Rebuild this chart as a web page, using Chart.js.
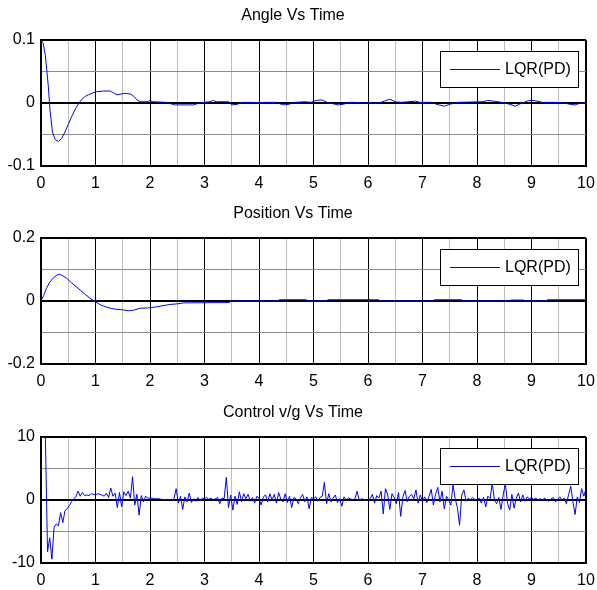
<!DOCTYPE html>
<html>
<head>
<meta charset="utf-8">
<script src="https://cdn.jsdelivr.net/npm/chart.js@4"></script>
<style>
  body { margin: 0; background: #fff; }
  #wrap { position: relative; width: 597px; height: 590px; }
  .box { position: absolute; left: 0; width: 597px; }
</style>
</head>
<body>
<div id="wrap">
  <div class="box" style="top:0"><canvas id="chart1" width="597" height="198"></canvas></div>
  <div class="box" style="top:198px"><canvas id="chart2" width="597" height="199"></canvas></div>
  <div class="box" style="top:397px"><canvas id="chart3" width="597" height="193"></canvas></div>
</div>
<script>
// Angle Vs Time
const angleT = [0, 0.04, 0.08, 0.135, 0.165, 0.21, 0.26, 0.32, 0.38, 0.44, 0.5, 0.56, 0.64, 0.72, 0.8, 0.87, 0.95,
    1.02, 1.15, 1.27, 1.33, 1.39, 1.45, 1.51, 1.58, 1.65, 1.71, 1.76, 1.82, 1.95, 2.0, 2.05, 2.3, 2.45, 2.8, 2.9,
    3.1, 3.15, 3.22, 3.45, 3.5, 3.6, 3.7, 3.85, 3.95, 4.1, 4.3, 4.45, 4.55, 4.65, 4.85, 4.95, 5.05, 5.15, 5.25,
    5.45, 5.55, 5.65, 5.75, 5.85, 6.2, 6.3, 6.4, 6.5, 6.6, 6.75, 6.87, 6.95, 7.15, 7.3, 7.4, 7.5, 7.65, 8.1, 8.2,
    8.3, 8.45, 8.6, 8.7, 8.8, 8.95, 9.05, 9.2, 9.45, 9.6, 9.7, 9.8, 9.9, 10];
const angleV = [0.1, 0.095, 0.075, 0.026, -0.011, -0.046, -0.058, -0.061, -0.056, -0.046, -0.034, -0.022, -0.008,
    0.003, 0.010, 0.013, 0.016, 0.018, 0.019, 0.019, 0.016, 0.013, 0.014, 0.015, 0.015, 0.014, 0.010, 0.005, 0.002,
    0.002, 0.004, 0.002, 0.001, -0.003, -0.003, 0, 0.002, 0.004, 0.002, 0.002, -0.003, -0.002, 0.001, 0.001, 0,
    0.001, 0.001, -0.003, -0.002, 0.001, 0.002, 0.001, 0.004, 0.005, 0.001, -0.003, -0.002, 0.001, 0.001, 0,
    0, 0.003, 0.006, 0.002, 0.001, 0.002, 0.003, 0.001, 0.001, -0.003, -0.005, -0.002, 0.001, 0.002, 0.004,
    0.003, 0.001, -0.002, -0.005, -0.001, 0.004, 0.004, 0.001, 0.001, 0, -0.002, -0.003, 0, 0];

// Position Vs Time
const posT = [0, 0.05, 0.1, 0.16, 0.23, 0.29, 0.34, 0.4, 0.47, 0.56, 0.65, 0.73, 0.81, 0.9, 0.99, 1.1, 1.21, 1.3,
    1.36, 1.5, 1.6, 1.7, 1.82, 1.95, 2.1, 2.2, 2.37, 2.5, 2.62, 3.46, 3.48, 4.35, 4.37, 4.87, 4.89, 5.24, 5.26,
    6.2, 6.22, 7.2, 7.22, 7.72, 7.74, 8.6, 8.62, 8.85, 8.87, 9.27, 9.29, 10];
const posV = [0, 0.018, 0.040, 0.060, 0.074, 0.082, 0.085, 0.080, 0.072, 0.058, 0.045, 0.033, 0.021, 0.009, -0.002,
    -0.013, -0.020, -0.024, -0.026, -0.028, -0.031, -0.029, -0.023, -0.022, -0.019, -0.016, -0.011, -0.009, -0.006,
    -0.005, 0, 0, 0.004, 0.004, 0, 0, 0.004, 0.004, 0, 0, 0.004, 0.004, 0, 0, 0.003, 0.003, 0, 0, 0.004, 0.004];

// Control v/g Vs Time, sampled every 0.04 s
const CONTROL_DT = 0.04;
const controlV = [
    10, 10, 10, -8.2, -6, -9.4, -4.3, -3.8, -4.1, -2.0, -3.6, -1.7, -1.4, -0.9, -0.3, 0.2, 0.5, 1.4, 0.6, 1.2, 0.7, 0.8, 0.7, 1.0, 0.9,
    0.8, 1.0, 0.9, 0.8, 0.6, 1.1, 0.4, 1.9, 0.6, 1.1, -1.2, 1.2, -1.1, 1.3, 0.7, 1.4, 0.3, 3.7, -0.8, 0.9, -2.4, 0.7, -0.3, 0.6, 0.3,
    0.3, 0.3, 0.2, 0.2, 0.2, 0.1, 0.1, 0.0, 0.1, 0.0, 0.0, 0.2, 1.8, -0.5, 0.6, -1.5, 0.5, -0.3, 1.1, -0.4, 0.2, -0.2, 0.4, -0.1, 0.3,
    0.2, 0.4, 0.1, 0.3, 0.0, 0.2, 0.4, -0.6, 0.3, 0.2, 3.6, -1.2, 0.8, -1.6, 0.6, -0.7, 1.3, -0.3, 1.0, 0.2, 0.9, -0.2, 0.4, -0.5, 0.6,
    0.3, -0.8, 0.5, 0.8, -0.3, 1.0, 0.0, 0.9, -0.5, 1.2, 0.1, -0.3, 1.0, -0.4, 0.6, -1.2, 0.4, 0.2, -0.6, 0.3, 0.9, -0.3, 0.5, -1.4, 0.4,
    0.2, 0.5, -0.2, 0.4, 0.6, 2.8, -0.6, 1.0, -0.3, 0.3, 0.8, -0.4, 0.2, -1.0, 0.5, 0.0, 0.3, 0.2, 0.0, 0.2, 1.4, -0.1, 0.2, 0.1, 0.0,
    0.0, 0.2, 0.9, -0.5, 0.7, 0.3, 1.4, -2.2, 1.8, 0.9, -1.5, 1.0, 0.4, -0.6, 1.2, -2.6, 0.5, 1.5, -0.3, 0.6, 0.9, 0.2, 1.6, -0.5, 0.8,
    -0.2, 0.5, -0.4, 0.6, 1.7, -0.8, 0.9, 2.0, -0.3, 1.4, -1.4, 0.6, 0.0, -0.8, 2.4, 0.2, -1.2, -4.0, 0.8, 1.6, -0.2, 0.3, 0.0, 0.4, 0.1,
    0.0, 0.3, -0.5, 0.4, -1.1, 0.6, 0.2, 2.7, 0.0, -0.6, 0.4, -1.5, 0.8, 2.6, -0.5, -1.6, 0.9, -1.3, 0.3, 1.1, -0.3, 0.8, -0.2, 0.5, 0.2,
    0.4, 0.1, 0.3, 0.0, 0.2, -0.1, 0.3, 0.0, -0.2, 0.2, 0.4, -0.3, 0.1, 0.5, 0.0, 0.3, -0.6, 0.8, 2.2, -0.3, -2.3, 0.5, -0.4, 1.8, 0.6,
    1.8
];

const xTicksMajor = [0, 1, 2, 3, 4, 5, 6, 7, 8, 9, 10];
const seriesLabel = 'LQR(PD)';
const LINE_COLOR = '#0000ff';
const FONT = "'Liberation Sans', Arial, sans-serif";

function toPoints(ts, vs) {
    return vs.map((v, i) => ({x: ts[i], y: v}));
}
const controlT = controlV.map((v, i) => +(i * CONTROL_DT).toFixed(2));

// legend box drawn inside the plot, top right, like the original figure
const boxLegend = {
    id: 'boxLegend',
    afterDatasetsDraw(chart) {
        const a = chart.chartArea;
        const ds = chart.data.datasets[0];
        const ctx = chart.ctx;
        const x0 = Math.round(a.right) - 146, y0 = Math.round(a.top) + 11, w = 138, h = 36;
        ctx.save();
        ctx.fillStyle = '#fff';
        ctx.fillRect(x0, y0, w, h);
        ctx.strokeStyle = '#000';
        ctx.lineWidth = 1;
        ctx.strokeRect(x0 + 0.5, y0 + 0.5, w, h);
        ctx.strokeStyle = LINE_COLOR;
        ctx.lineWidth = 1;
        ctx.beginPath();
        ctx.moveTo(x0 + 10, y0 + 18.5);
        ctx.lineTo(x0 + 60, y0 + 18.5);
        ctx.stroke();
        ctx.fillStyle = '#000';
        ctx.font = '16px ' + FONT;
        ctx.textBaseline = 'middle';
        ctx.fillText(ds.label, x0 + 65, y0 + h / 2 + 1);
        ctx.restore();
    }
};

function makeChart(id, title, data, yMin, yMax, yStep) {
    const ctx = document.getElementById(id).getContext('2d');
    return new Chart(ctx, {
        type: 'line',
        data: {
            datasets: [{
                label: seriesLabel,
                data: data,
                borderColor: LINE_COLOR,
                borderWidth: 1,
                pointRadius: 0,
                tension: 0
            }]
        },
        options: {
            responsive: false,
            animation: false,
            devicePixelRatio: 1,
            layout: { padding: { left: 0, right: 11, top: 0, bottom: 0 } },
            plugins: {
                legend: { display: false },
                tooltip: { enabled: false },
                title: {
                    display: true,
                    text: title,
                    color: '#000',
                    font: { family: FONT, size: 16, weight: 'normal' },
                    padding: { top: 6, bottom: 14.8 }
                }
            },
            scales: {
                x: {
                    type: 'linear',
                    min: 0,
                    max: 10,
                    afterFit: s => {
                        s.height = s.chart.height - 166;
                        s.paddingLeft = 0;
                        s.paddingRight = 0;
                    },
                    border: { display: true, color: '#000', width: 2 },
                    grid: {
                        drawTicks: false,
                        color: c => xTicksMajor.includes(c.tick.value) ? '#000' : '#bdbdbd',
                        lineWidth: c => (c.tick.value === 0 || c.tick.value === 10) ? 2 : 1
                    },
                    ticks: {
                        stepSize: 0.5,
                        autoSkip: false,
                        maxRotation: 0,
                        padding: 8,
                        color: '#000',
                        font: { family: FONT, size: 16 },
                        callback: v => xTicksMajor.includes(v) ? String(v) : ''
                    }
                },
                y: {
                    min: yMin,
                    max: yMax,
                    afterFit: s => { s.width = 41; },
                    border: { display: true, color: '#000', width: 2 },
                    grid: {
                        drawTicks: false,
                        color: c => {
                            const v = c.tick.value;
                            return (Math.abs(v) < 1e-9 || Math.abs(Math.abs(v) - yMax) < 1e-9) ? '#000' : '#8c8c8c';
                        },
                        lineWidth: c => {
                            const v = c.tick.value;
                            return (Math.abs(v) < 1e-9 || Math.abs(Math.abs(v) - yMax) < 1e-9) ? 2 : 1;
                        }
                    },
                    ticks: {
                        stepSize: yStep,
                        padding: 6,
                        color: '#000',
                        font: { family: FONT, size: 16 },
                        callback: v => {
                            if (Math.abs(v) < 1e-9) return '0';
                            if (Math.abs(Math.abs(v) - yMax) < 1e-9) return String(v);
                            return '';
                        }
                    }
                }
            }
        },
        plugins: [boxLegend]
    });
}

makeChart('chart1', 'Angle Vs Time', toPoints(angleT, angleV), -0.1, 0.1, 0.05);
makeChart('chart2', 'Position Vs Time', toPoints(posT, posV), -0.2, 0.2, 0.1);
makeChart('chart3', 'Control v/g Vs Time', toPoints(controlT, controlV), -10, 10, 5);
</script>
</body>
</html>
